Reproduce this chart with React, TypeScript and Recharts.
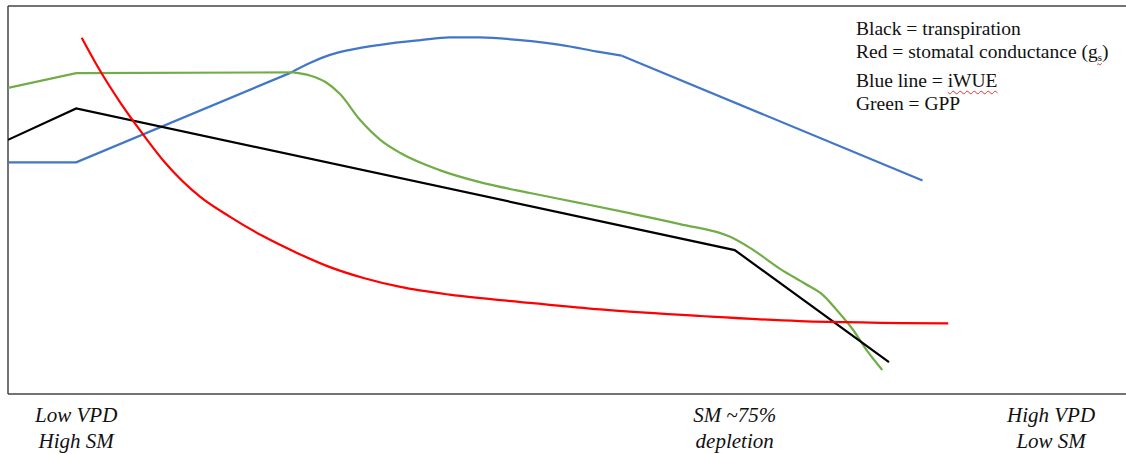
import { LineChart, Line, XAxis, YAxis, ReferenceLine } from "recharts";

// x: 0 = low VPD / high SM, 100 = high VPD / low SM; y: relative level 0-100
type Pt = [number, number];

const blackTranspiration: Pt[] = [
	[0, 65.5], [6.1, 73.6], [65.0, 37.1], [78.8, 8.2],
];

const redConductance: Pt[] = [
	[6.6, 91.8], [8.2, 83.5], [10.0, 75.3], [11.8, 68.0], [14.0, 59.8],
	[17.2, 50.8], [19.9, 45.6], [22.8, 40.7], [25.9, 36.3], [28.8, 32.7],
	[31.8, 29.9], [35.1, 27.6], [39.5, 25.6], [46.7, 23.5], [53.0, 21.8],
	[61.9, 20.1], [70.8, 18.8], [84.1, 18.2],
];

const blueRise: Pt[] = [[0, 59.7], [6.1, 59.7], [25.2, 82.7]];
const blueArc: Pt[] = [
	[25.2, 82.7], [27.0, 85.3], [28.8, 87.4], [30.6, 88.7], [33.3, 90.0],
	[36.9, 91.2], [39.5, 91.9], [42.2, 91.9], [45.8, 91.2], [49.4, 90.0],
	[53.0, 88.1], [54.9, 87.2],
];
const blueFall: Pt[] = [[54.9, 87.2], [81.8, 55.0]];

const greenFlat: Pt[] = [[0, 78.9], [6.1, 82.7], [25.5, 82.9]];
const greenDrop: Pt[] = [
	[25.5, 82.9], [27.0, 82.1], [28.4, 80.4], [29.7, 77.3], [31.5, 70.6],
	[33.3, 65.5], [35.1, 62.1], [38.6, 57.7], [42.2, 54.6], [46.7, 51.8],
	[51.2, 49.2], [55.6, 46.6], [60.1, 43.8], [64.6, 40.5], [66.4, 37.6],
	[69.1, 32.2], [71.3, 28.4], [72.9, 25.5], [74.2, 21.4], [75.6, 16.5],
	[76.8, 11.3], [78.2, 6.2],
];

const bottomLabels = [
	{ at: 6.1, lines: ["Low VPD", "High SM"] },
	{ at: 65.0, lines: ["SM ~75%", "depletion"] },
	{ at: 93.3, lines: ["High VPD", "Low SM"] },
];

const W = 1126;
const H = 454;
const M = { top: 6, right: 0, left: 8, bottom: 60 };

const BLUE = "#4177c6";
const GREEN = "#70ad47";
const RED = "#ff0000";
const FRAME = "#444";
const serif = '"Liberation Serif", "Times New Roman", serif';

const toRows = (pts: Pt[]) => pts.map(([x, y]) => ({ x, y }));

const segments: { data: Pt[]; color: string; curve: "linear" | "monotone" }[] = [
	{ data: blueRise, color: BLUE, curve: "linear" },
	{ data: blueArc, color: BLUE, curve: "monotone" },
	{ data: blueFall, color: BLUE, curve: "linear" },
	{ data: greenFlat, color: GREEN, curve: "linear" },
	{ data: greenDrop, color: GREEN, curve: "monotone" },
	{ data: blackTranspiration, color: "#000000", curve: "linear" },
	{ data: redConductance, color: RED, curve: "monotone" },
];

const squiggle = { textDecoration: "underline wavy #e03030", textDecorationThickness: 1, textUnderlineOffset: 3 };

export default function App() {
	const plotW = W - M.left - M.right;
	return (
		<div style={{ position: "absolute", left: 0, top: 0, width: W, height: H, background: "#fff", fontFamily: serif }}>
			<LineChart width={W} height={H} margin={M}>
				<XAxis type="number" dataKey="x" domain={[0, 100]} hide allowDataOverflow />
				<YAxis type="number" dataKey="y" domain={[0, 100]} hide allowDataOverflow />
				<ReferenceLine y={100} stroke={FRAME} strokeWidth={1.5} />
				<ReferenceLine y={0} stroke={FRAME} strokeWidth={1.5} />
				<ReferenceLine x={0} stroke={FRAME} strokeWidth={1.5} />
				{segments.map((s, i) => (
					<Line key={i} data={toRows(s.data)} dataKey="y" type={s.curve} stroke={s.color}
						strokeWidth={2.2} dot={false} activeDot={false} isAnimationActive={false} />
				))}
			</LineChart>

			<div style={{ position: "absolute", left: 856, top: 17, fontSize: 19.5, lineHeight: "23px", color: "#111", whiteSpace: "nowrap" }}>
				<div>Black = transpiration</div>
				<div>
					Red = stomatal conductance (<span style={squiggle}>g<sub style={{ fontSize: 11, verticalAlign: "-3px" }}>s</sub></span>)
				</div>
				<div>Blue line = <span style={squiggle}>iWUE</span></div>
				<div>Green = GPP</div>
			</div>

			{bottomLabels.map((b) => (
				<div key={b.lines[0]} style={{
					position: "absolute", top: 402, left: M.left + (b.at / 100) * plotW - 80, width: 160,
					textAlign: "center", fontStyle: "italic", fontSize: 21, lineHeight: "26px", color: "#111",
				}}>
					{b.lines.map((l) => <div key={l}>{l}</div>)}
				</div>
			))}
		</div>
	);
}
